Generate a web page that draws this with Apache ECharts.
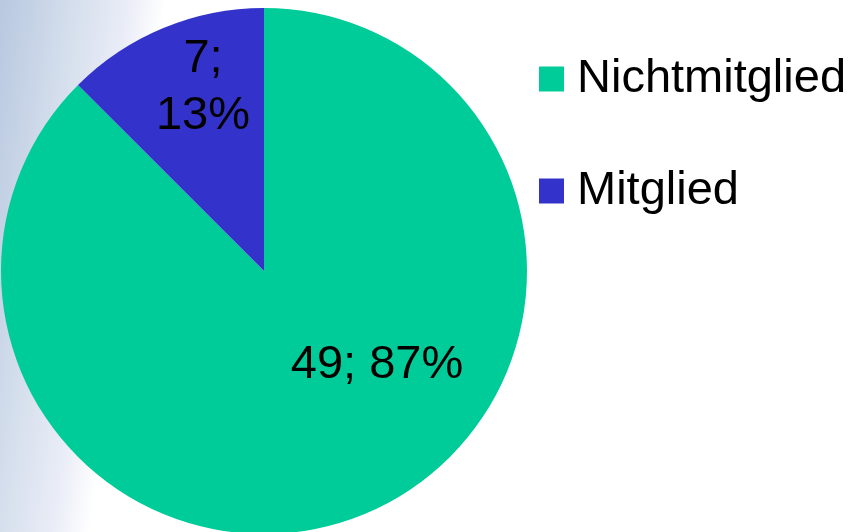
<!DOCTYPE html>
<html>
<head>
<meta charset="utf-8">
<script src="https://cdn.jsdelivr.net/npm/echarts@6/dist/echarts.min.js"></script>
<style>
html,body{margin:0;padding:0;background:#fff;}
#chart{width:852px;height:532px;}
</style>
</head>
<body>
<div id="chart"></div>
<script>
var categories = ['Nichtmitglied', 'Mitglied'];
var values = [49, 7];
var colors = ['#00CC99', '#3333CC'];
var labelTexts = ['49; 87%', '7;\n13%'];

var chart = echarts.init(document.getElementById('chart'), null, {renderer: 'canvas'});
var data = categories.map(function (c, i) {
  return {name: c, value: values[i], itemStyle: {color: colors[i]}};
});
var labelPos = [[377, 365], [203, 88]];
var FONT = 'Liberation Sans, Arial, sans-serif';

chart.setOption({
  animation: false,
  backgroundColor: {
    type: 'linear', x: 0, y: 0, x2: 162, y2: 23, global: true,
    colorStops: [
      {offset: 0, color: '#b8c8e0'},
      {offset: 0.5, color: '#d8e1ee'},
      {offset: 0.78, color: '#eaedf7'},
      {offset: 1, color: '#ffffff'}
    ]
  },
  legend: {
    orient: 'vertical',
    left: 539,
    top: 54,
    padding: 0,
    itemWidth: 25,
    itemHeight: 25,
    itemGap: 62,
    icon: 'rect',
    data: categories,
    textStyle: {
      fontFamily: FONT,
      fontSize: 47,
      lineHeight: 50,
      color: '#000',
      padding: [0, 0, 0, 8]
    }
  },
  series: [{
    type: 'pie',
    center: [264, 271],
    radius: [0, 263],
    startAngle: 90,
    clockwise: true,
    data: data,
    label: {
      show: true,
      position: 'inside',
      formatter: function (p) { return labelTexts[p.dataIndex]; },
      fontFamily: FONT,
      fontSize: 47,
      lineHeight: 57,
      color: '#000',
      align: 'center'
    },
    labelLine: {show: false},
    labelLayout: function (p) {
      return {x: labelPos[p.dataIndex][0], y: labelPos[p.dataIndex][1], align: 'center', verticalAlign: 'middle'};
    },
    emphasis: {disabled: true}
  }]
});
</script>
</body>
</html>
